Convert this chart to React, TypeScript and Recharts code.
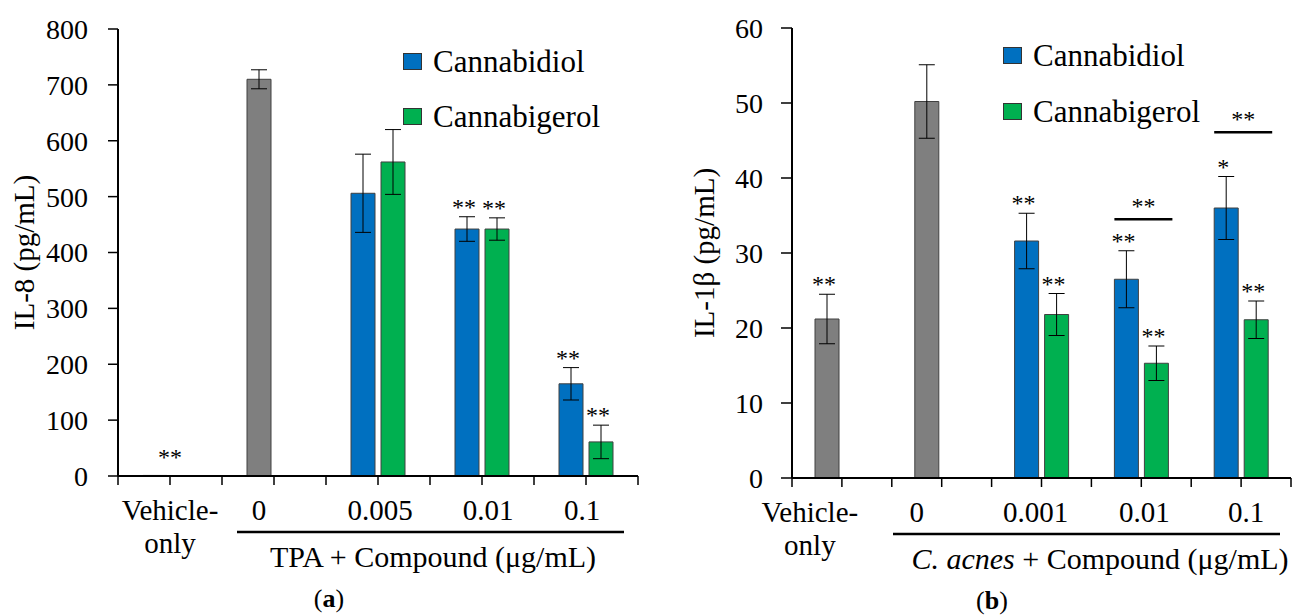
import React from 'react';
import { BarChart, Bar, XAxis, YAxis, ErrorBar, Cell, LabelList, Legend } from 'recharts';

// ---- panel (a): IL-8, TPA stimulated ----
const il8Groups = ['Vehicle-only', '0', '0.005', '0.01', '0.1'];
const il8TickLines = [['Vehicle-', 'only'], ['0'], ['0.005'], ['0.01'], ['0.1']];
const il8First = [1, 710, 506, 442, 165];
const il8FirstErr = [0, 17, 70, 22, 29];
const il8Cbg = [null, null, 562, 442, 61];
const il8CbgErr = [null, null, 58, 20, 30];
const il8FirstSig = ['**', '', '', '**', '**'];
const il8CbgSig = ['', '', '', '**', '**'];
const il8Brackets = [null, null, null, null, null];
const il8Ticks = [0, 100, 200, 300, 400, 500, 600, 700, 800];

// ---- panel (b): IL-1beta, C. acnes stimulated ----
const il1Groups = ['Vehicle-only', '0', '0.001', '0.01', '0.1'];
const il1TickLines = [['Vehicle-', 'only'], ['0'], ['0.001'], ['0.01'], ['0.1']];
const il1First = [21.2, 50.2, 31.6, 26.5, 36.0];
const il1FirstErr = [3.3, 4.9, 3.7, 3.8, 4.2];
const il1Cbg = [null, null, 21.8, 15.3, 21.1];
const il1CbgErr = [null, null, 2.8, 2.3, 2.5];
const il1FirstSig = ['**', '', '**', '**', '*'];
const il1CbgSig = ['', '', '**', '**', '**'];
const il1Brackets = [null, null, null, 34.5, 46.1];
const il1Ticks = [0, 10, 20, 30, 40, 50, 60];

const seriesNames = ['Cannabidiol', 'Cannabigerol'];
const seriesColors = ['#0070C0', '#00B050'];
const controlColor = '#7F7F7F';
const controlCount = 2; // vehicle + stimulus-only bars are grey

const FONT = "'Liberation Serif', 'Times New Roman', serif";
const BAR_SIZE = 24;
const BAR_GAP = 6;

const buildRows = (groups, first, firstErr, cbg, cbgErr) =>
  groups.map((g, i) => ({ group: g, first: first[i], firstErr: firstErr[i], cbg: cbg[i], cbgErr: cbgErr[i] }));

// label content: the LabelList value is the group name, so we can find the row
const makeSigLabel = (groups, vals, sig, errs, brackets) => (props: any) => {
  const vb = props.viewBox || props;
  const x = Number(vb.x), y = Number(vb.y), w = Number(vb.width), h = Number(vb.height);
  const index = groups.indexOf(props.value);
  if (index < 0) return null;
  const value = Number(vals[index]);
  const s = sig[index];
  const base = y + h;
  const k = value ? h / value : 0;
  const out: React.ReactNode[] = [];
  if (s) {
    if (h < 2) {
      // bar too small to see: mark sits over the group centre
      out.push(
        <text key="s" x={x + w + BAR_GAP / 2} y={base - 11} textAnchor="middle" fontSize={24} fontFamily={FONT} fill="#000">{s}</text>
      );
    } else {
      const top = y - (errs[index] || 0) * k;
      out.push(
        <text key="s" x={x + w / 2 - 3} y={top - 2} textAnchor="middle" fontSize={24} fontFamily={FONT} fill="#000">{s}</text>
      );
    }
  }
  const b = brackets ? brackets[index] : null;
  if (b != null && k) {
    const by = base - b * k;
    const x1 = x;
    const x2 = x + 2 * w + BAR_GAP + 4;
    out.push(<line key="bl" x1={x1} x2={x2} y1={by} y2={by} stroke="#000" strokeWidth={2.5} />);
    out.push(
      <text key="bt" x={(x1 + x2) / 2} y={by - 5} textAnchor="middle" fontSize={24} fontFamily={FONT} fill="#000">**</text>
    );
  }
  return <g>{out}</g>;
};

const renderLegend = (rowH: number) => (props: any) => {
  const items = props.payload || [];
  return (
    <div style={{ fontFamily: FONT, fontSize: 31, color: '#000' }}>
      {items.map((it: any) => (
        <div key={it.value} style={{ display: 'flex', alignItems: 'center', height: rowH }}>
          <span style={{ display: 'inline-block', width: 17, height: 15, background: it.color, border: '1.5px solid #333', marginRight: 11 }} />
          <span style={{ lineHeight: 1 }}>{it.value}</span>
        </div>
      ))}
    </div>
  );
};

type PanelProps = {
  width: number;
  height: number;
  margin: { top: number; right: number; bottom: number; left: number };
  xAxisHeight: number;
  yAxisWidth: number;
  tickSize: number;
  tickMargin: number;
  groups: string[];
  rows: any[];
  first: (number | null)[];
  cbg: (number | null)[];
  tickLines: string[][];
  tickShift: number[];
  yTicks: number[];
  yLabel: string;
  yLabelX: number;
  xTitle: React.ReactNode;
  xTitleX: number;
  lineFrom: number;
  lineTo: number;
  letter: string;
  letterX: number;
  firstSig: string[];
  firstErr: (number | null)[];
  cbgSig: string[];
  cbgErr: (number | null)[];
  brackets: (number | null)[];
  legendTop: number;
  legendLeft: number;
  legendRow: number;
};

const Panel = (p: PanelProps) => {
  const plotW = p.width - p.margin.left - p.margin.right - p.yAxisWidth;
  const n = p.rows.length;
  const half = plotW / n / 2;

  const XTick = (t: any) => {
    const { x, y, payload } = t;
    const i = payload.index;
    const lines = p.tickLines[i];
    const tx = x + p.tickShift[i];
    return (
      <g>
        <line x1={x - half} x2={x - half} y1={y} y2={y + 9} stroke="#000" strokeWidth={1.5} />
        <line x1={x} x2={x} y1={y} y2={y + 9} stroke="#000" strokeWidth={1.5} />
        {i === n - 1 && <line x1={x + half} x2={x + half} y1={y} y2={y + 9} stroke="#000" strokeWidth={1.5} />}
        <text x={tx} y={y + 44} textAnchor="middle" fontSize={29} fontFamily={FONT} fill="#000">
          {lines.map((l, k) => (
            <tspan key={k} x={tx} dy={k === 0 ? 0 : 33}>{l}</tspan>
          ))}
        </text>
      </g>
    );
  };

  const XTitle = (l: any) => {
    const vb = l.viewBox;
    return (
      <g>
        <line x1={vb.x + p.lineFrom} x2={vb.x + p.lineTo} y1={vb.y + 56} y2={vb.y + 56} stroke="#000" strokeWidth={2.5} />
        <text x={vb.x + p.xTitleX} y={vb.y + 91} textAnchor="middle" fontSize={30} fontFamily={FONT} fill="#000">{p.xTitle}</text>
        <text x={vb.x + p.letterX} y={vb.y + 131} textAnchor="middle" fontSize={26} fontFamily={FONT} fill="#000">
          (<tspan fontWeight="bold">{p.letter}</tspan>)
        </text>
      </g>
    );
  };

  const YTitle = (l: any) => {
    const vb = l.viewBox;
    const cy = vb.y + vb.height / 2;
    return (
      <text x={p.yLabelX} y={cy} transform={`rotate(-90 ${p.yLabelX} ${cy})`} textAnchor="middle" dominantBaseline="central" fontSize={29} fontFamily={FONT} fill="#000">
        {p.yLabel}
      </text>
    );
  };

  const domain = [p.yTicks[0], p.yTicks[p.yTicks.length - 1]];
  const groupKey = (row: any) => row.group;

  return (
    <BarChart width={p.width} height={p.height} data={p.rows} margin={p.margin} barSize={BAR_SIZE} barGap={BAR_GAP}>
      <XAxis
        dataKey="group"
        axisLine={{ stroke: '#000', strokeWidth: 2 }}
        tickLine={false}
        tickSize={0}
        tickMargin={0}
        height={p.xAxisHeight}
        interval={0}
        tick={XTick}
        label={XTitle}
      />
      <XAxis xAxisId="top" orientation="top" dataKey="group" tick={false} tickLine={false} height={0} axisLine={{ stroke: '#555', strokeWidth: 1.5 }} />
      <YAxis
        domain={domain}
        ticks={p.yTicks}
        interval={0}
        width={p.yAxisWidth}
        axisLine={{ stroke: '#000', strokeWidth: 2 }}
        tickLine={{ stroke: '#000', strokeWidth: 1.5 }}
        tickSize={p.tickSize}
        tickMargin={p.tickMargin}
        tick={{ fill: '#000', fontSize: 28, fontFamily: FONT }}
        label={YTitle}
      />
      <YAxis yAxisId="right" orientation="right" domain={domain} tick={false} tickLine={false} width={0} axisLine={{ stroke: '#555', strokeWidth: 1.5 }} />
      <Legend
        layout="vertical"
        align="center"
        verticalAlign="middle"
        wrapperStyle={{ top: p.legendTop, left: p.legendLeft, width: 'auto' }}
        content={renderLegend(p.legendRow)}
      />
      <Bar dataKey="first" name={seriesNames[0]} fill={seriesColors[0]} stroke="#404040" strokeWidth={1} isAnimationActive={false}>
        {p.rows.map((_, i) => (
          <Cell key={i} fill={i < controlCount ? controlColor : seriesColors[0]} />
        ))}
        <ErrorBar dataKey="firstErr" width={8} stroke="#000" strokeWidth={1} direction="y" />
        <LabelList dataKey={groupKey} content={makeSigLabel(p.groups, p.first, p.firstSig, p.firstErr, p.brackets)} />
      </Bar>
      <Bar dataKey="cbg" name={seriesNames[1]} fill={seriesColors[1]} stroke="#404040" strokeWidth={1} isAnimationActive={false}>
        <ErrorBar dataKey="cbgErr" width={8} stroke="#000" strokeWidth={1} direction="y" />
        <LabelList dataKey={groupKey} content={makeSigLabel(p.groups, p.cbg, p.cbgSig, p.cbgErr, null)} />
      </Bar>
    </BarChart>
  );
};

export default function App() {
  const rowsA = buildRows(il8Groups, il8First, il8FirstErr, il8Cbg, il8CbgErr);
  const rowsB = buildRows(il1Groups, il1First, il1FirstErr, il1Cbg, il1CbgErr);
  return (
    <div style={{ position: 'absolute', left: 0, top: 0, width: 1293, height: 616, background: '#fff', overflow: 'hidden' }}>
      <div style={{ position: 'absolute', left: 0, top: 0 }}>
        <Panel
          width={650}
          height={616}
          margin={{ top: 29, right: 12, bottom: 0, left: 0 }}
          xAxisHeight={140}
          yAxisWidth={118}
          tickSize={10}
          tickMargin={20}
          groups={il8Groups}
          rows={rowsA}
          first={il8First}
          cbg={il8Cbg}
          tickLines={il8TickLines}
          tickShift={[0, -15, 2, 6, -4]}
          yTicks={il8Ticks}
          yLabel="IL-8 (pg/mL)"
          yLabelX={24}
          xTitle="TPA + Compound (μg/mL)"
          xTitleX={315}
          lineFrom={119}
          lineTo={506}
          letter="a"
          letterX={211}
          firstSig={il8FirstSig}
          firstErr={il8FirstErr}
          cbgSig={il8CbgSig}
          cbgErr={il8CbgErr}
          brackets={il8Brackets}
          legendTop={34}
          legendLeft={403}
          legendRow={55}
        />
      </div>
      <div style={{ position: 'absolute', left: 650, top: 0 }}>
        <Panel
          width={643}
          height={616}
          margin={{ top: 28, right: 2, bottom: 0, left: 0 }}
          xAxisHeight={138}
          yAxisWidth={142}
          tickSize={11}
          tickMargin={18}
          groups={il1Groups}
          rows={rowsB}
          first={il1First}
          cbg={il1Cbg}
          tickLines={il1TickLines}
          tickShift={[-32, -25, -6, 3, 5]}
          yTicks={il1Ticks}
          yLabel="IL-1β (pg/mL)"
          yLabelX={54}
          xTitle={
            <>
              <tspan fontStyle="italic">C. acnes</tspan>
              <tspan> + Compound (μg/mL)</tspan>
            </>
          }
          xTitleX={308}
          lineFrom={101}
          lineTo={488}
          letter="b"
          letterX={200}
          firstSig={il1FirstSig}
          firstErr={il1FirstErr}
          cbgSig={il1CbgSig}
          cbgErr={il1CbgErr}
          brackets={il1Brackets}
          legendTop={27}
          legendLeft={353}
          legendRow={56}
        />
      </div>
    </div>
  );
}
